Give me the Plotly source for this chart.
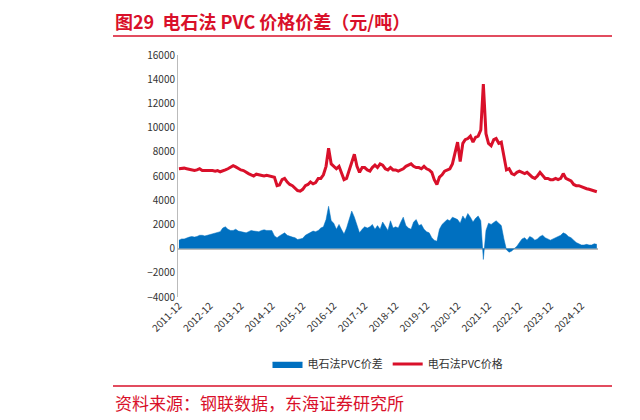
import pandas as pd
import plotly.graph_objects as go

months = pd.date_range("2011-12-01", "2025-06-01", freq="MS")

price = [6600,
         6650, 6650, 6600, 6550, 6500, 6450, 6500, 6600, 6450, 6450, 6500, 6450,
         6450, 6400, 6450, 6350, 6400, 6500, 6600, 6750, 6850, 6750, 6600, 6500,
         6450, 6300, 6200, 6100, 6000, 6150, 6100, 6050, 6000, 6050, 6000, 6000,
         5900, 5200, 5250, 5700, 5800, 5500, 5300, 5200, 5000, 4800, 4750, 4900,
         5200, 5300, 5500, 5350, 5450, 5800, 5800, 6100, 6800, 8300, 7000, 6800,
         6600, 6800, 6300, 5700, 5800, 6500, 7200, 7800, 6800, 6300, 6700, 6700,
         6500, 6400, 6700, 6900, 6700, 7000, 6900, 6600, 6500, 6700, 6500, 6500,
         6400, 6500, 6600, 6800, 6900, 7000, 6800, 6700, 6700, 6600, 6800, 6600,
         6500, 6300, 5700, 5300, 5900, 6100, 6400, 6500, 6600, 7000, 8000, 8800,
         7200, 8700, 9000, 9100, 9300, 8800, 9200, 9300, 9800, 13600, 9500, 8700,
         8500, 9000, 9100, 8700, 8800, 7500, 6500, 6600, 6200, 6100, 6300, 6400,
         6300, 6200, 6300, 6100, 5900, 5800, 6000, 6300, 6000, 5800, 5800, 5700,
         5700, 5800, 5700, 5800, 6200, 5800, 5700, 5600, 5300, 5200, 5200, 5100,
         5000, 4950, 4900, 4850, 4800, 4700]

spread = [700,
          800, 800, 900, 950, 1000, 950, 1000, 1100, 1100, 1050, 1100, 1150,
          1200, 1250, 1300, 1400, 1700, 1800, 1600, 1500, 1500, 1600, 1450, 1400,
          1350, 1300, 1400, 1500, 1450, 1450, 1400, 1500, 1550, 1500, 1500, 1500,
          1050, 900, 1050, 1150, 1300, 1100, 1000, 950, 900, 750, 800, 850,
          1100, 1200, 1300, 1450, 1400, 1500, 1700, 1800, 2400, 3500, 2300, 2100,
          1600, 2000, 1600, 1200, 1700, 2500, 3100, 2600, 2000, 1300, 1600, 1800,
          1700, 1800, 2000, 1600, 1900, 1600, 2200, 1800, 1500, 2300, 1700, 1800,
          1700, 2200, 2600, 1900, 1700, 1600, 2200, 2400, 1900, 2000, 1600, 1400,
          1300, 900, 700, 600, 1600, 2000, 2200, 2400, 2300, 2600, 2500, 2400,
          2100, 2700, 2400, 2900, 2600, 2200, 2500, 2700, 2300, -900, 1500, 2100,
          2000, 2200, 2300, 2100, 1900, 800, -100, -300, -200, 0, 200, 500,
          800, 900, 700, 1000, 900, 700, 800, 1000, 1100, 900, 800, 700,
          800, 900, 1000, 1100, 1300, 1200, 1000, 900, 700, 500, 400, 300,
          300, 350, 300, 300, 400, 350]

tick_labels = [f"{y}-12" for y in range(2011, 2025)]

font = "Noto Sans CJK SC"
red = "#D9102A"
fig = go.Figure()
fig.add_trace(go.Scatter(x=months, y=spread, name="电石法PVC价差", mode="lines",
                         line=dict(color="#0070C0", width=0.5), fill="tozeroy",
                         fillcolor="#0070C0"))
fig.add_trace(go.Scatter(x=months, y=price, name="电石法PVC价格", mode="lines",
                         line=dict(color=red, width=3)))

# plot area: 420 x 242 px
fig.update_layout(
    width=640, height=420, plot_bgcolor="white", paper_bgcolor="white",
    margin=dict(l=170, r=50, t=47, b=131, autoexpand=False),
    font=dict(family=font, size=10, color="#333"),
    legend=dict(orientation="h", x=0.5, xanchor="center", y=-(364 - 297) / 242,
                yanchor="middle", font=dict(size=11)),
    xaxis=dict(tickvals=[pd.Timestamp(f"{y}-12-01") for y in range(2011, 2025)],
               ticktext=tick_labels, tickangle=-45, showgrid=False,
               range=[pd.Timestamp("2011-11-20"), pd.Timestamp("2025-06-15")]),
    yaxis=dict(range=[-4000, 16000], dtick=2000, showgrid=False, zeroline=True,
               zerolinecolor="#bbb", showline=True, linecolor="#bbb",
               tickformat="d"),
)
x_left = -65 / 420
x_right = (612 - 178) / 420
fig.add_annotation(text="<b>图29  电石法 PVC 价格价差（元/吨）</b>", xref="paper", yref="paper",
                   x=x_left, y=1 + 34/242, xanchor="left", yanchor="middle", showarrow=False,
                   font=dict(size=18, color=red, family=font))
fig.add_annotation(text="资料来源：钢联数据，东海证券研究所", xref="paper", yref="paper",
                   x=x_left, y=-(402 - 297) / 242, xanchor="left", yanchor="middle",
                   showarrow=False, font=dict(size=17, color=red, family=font))
fig.add_shape(type="line", xref="paper", yref="paper", x0=x_left, x1=x_right,
              y0=1 + 19/242, y1=1 + 19/242, line=dict(color=red, width=1.5))
fig.add_shape(type="line", xref="paper", yref="paper", x0=x_left, x1=x_right,
              y0=-(386 - 297) / 242, y1=-(386 - 297) / 242, line=dict(color=red, width=1.5))

fig.write_html("out.html")
